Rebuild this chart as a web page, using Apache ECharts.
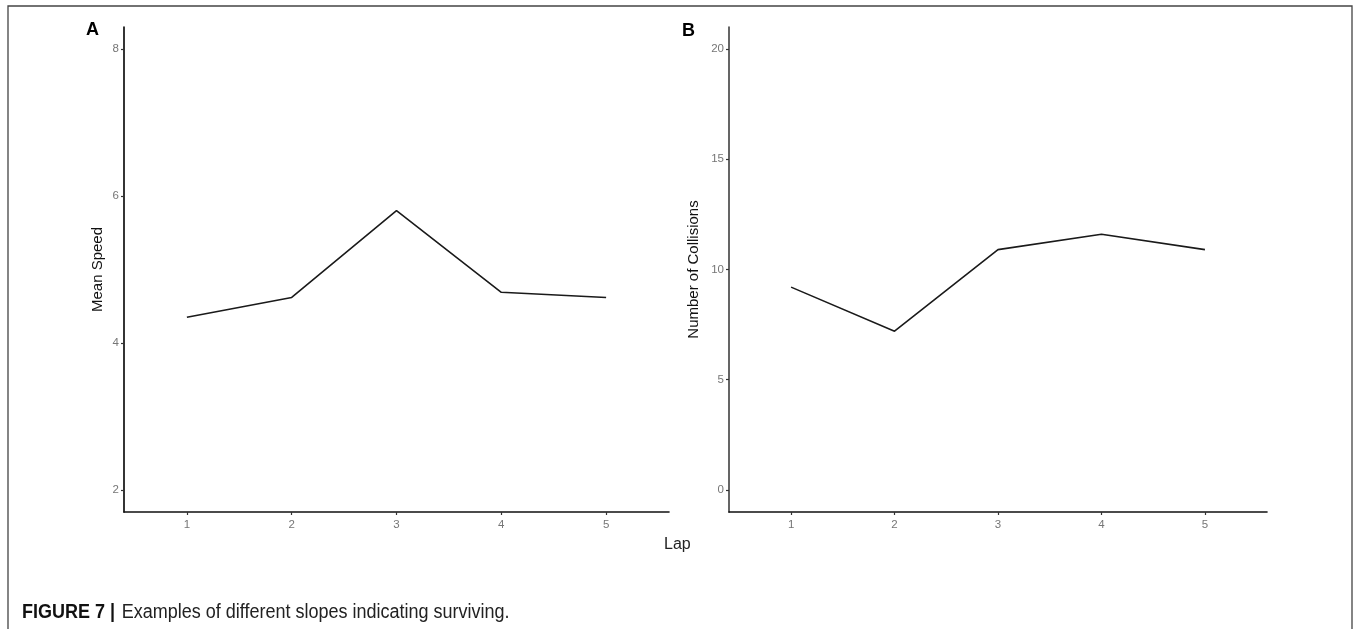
<!DOCTYPE html>
<html>
<head>
<meta charset="utf-8">
<script src="https://cdn.jsdelivr.net/npm/echarts@6/dist/echarts.min.js"></script>
<style>
html,body{margin:0;padding:0;background:#fff;}
#c{width:1358px;height:629px;}
</style>
</head>
<body>
<div id="c"></div>
<script>
const laps = [1, 2, 3, 4, 5];
const meanSpeed = [4.35, 4.62, 5.80, 4.69, 4.62];
const collisions = [9.2, 7.2, 10.9, 11.6, 10.9];
const speedTicks = [2, 4, 6, 8];
const collisionTicks = [0, 5, 10, 15, 20];

const chart = echarts.init(document.getElementById('c'), null, {renderer: 'canvas'});

const FONT = 'Liberation Sans, Arial, sans-serif';
const tickLabelStyle = {color: '#767676', fontSize: 11.5, fontFamily: FONT};
function xAxisDef(gi) {
  return {
    type: 'value', gridIndex: gi, min: 0.4, max: 5.6,
    axisLine: {show: true, onZero: false, lineStyle: {color: '#111', width: 1.6}},
    axisTick: {show: true, length: 3, customValues: laps, lineStyle: {color: '#333', width: 1.2}},
    axisLabel: Object.assign({customValues: laps, margin: 7}, tickLabelStyle),
    splitLine: {show: false}
  };
}
function yAxisDef(gi, min, max, ticks, name, gap, lineColor) {
  return {
    type: 'value', gridIndex: gi, min: min, max: max,
    name: name, nameLocation: 'middle', nameGap: gap,
    nameTextStyle: {color: '#111', fontSize: 15, fontFamily: FONT},
    axisLine: {show: true, onZero: false, lineStyle: {color: lineColor, width: 1.7}},
    axisTick: {show: true, length: 3, customValues: ticks, lineStyle: {color: '#333', width: 1.2}},
    axisLabel: Object.assign({customValues: ticks, margin: 5}, tickLabelStyle),
    splitLine: {show: false}
  };
}

chart.setOption({
  animation: false,
  backgroundColor: '#fff',
  grid: [
    {left: 124, top: 27, width: 545, height: 485},
    {left: 729, top: 27, width: 538, height: 485}
  ],
  xAxis: [xAxisDef(0), xAxisDef(1)],
  yAxis: [
    yAxisDef(0, 1.7, 8.3, speedTicks, 'Mean Speed', 19, '#111'),
    yAxisDef(1, -1, 21, collisionTicks, 'Number of Collisions', 28, '#4a4a4a')
  ],
  series: [
    {type: 'line', xAxisIndex: 0, yAxisIndex: 0, data: laps.map((l, i) => [l, meanSpeed[i]]),
     symbol: 'none', lineStyle: {color: '#1a1a1a', width: 1.6}},
    {type: 'line', xAxisIndex: 1, yAxisIndex: 1, data: laps.map((l, i) => [l, collisions[i]]),
     symbol: 'none', lineStyle: {color: '#1a1a1a', width: 1.6}}
  ],
  graphic: [
    {type: 'rect', shape: {x: 8, y: 6, width: 1344, height: 700}, style: {fill: null, stroke: '#444', lineWidth: 1.3}, silent: true},
    {type: 'text', left: 86, top: 21, style: {text: 'A', font: 'bold 18px ' + FONT, fill: '#000'}},
    {type: 'text', left: 682, top: 22, style: {text: 'B', font: 'bold 18px ' + FONT, fill: '#000'}},
    {type: 'text', left: 664, top: 537, style: {text: 'Lap', font: '16px ' + FONT, fill: '#222'}},
    {type: 'text', x: 22, y: 602, scaleX: 0.9, style: {
      rich: {
        b: {font: 'bold 20px ' + FONT, fill: '#111'},
        n: {font: '20px ' + FONT, fill: '#222', padding: [0, 0, 0, 4]}
      },
      text: '{b|FIGURE 7 |} {n|Examples of different slopes indicating surviving.}'
    }}
  ]
});
</script>
</body>
</html>
